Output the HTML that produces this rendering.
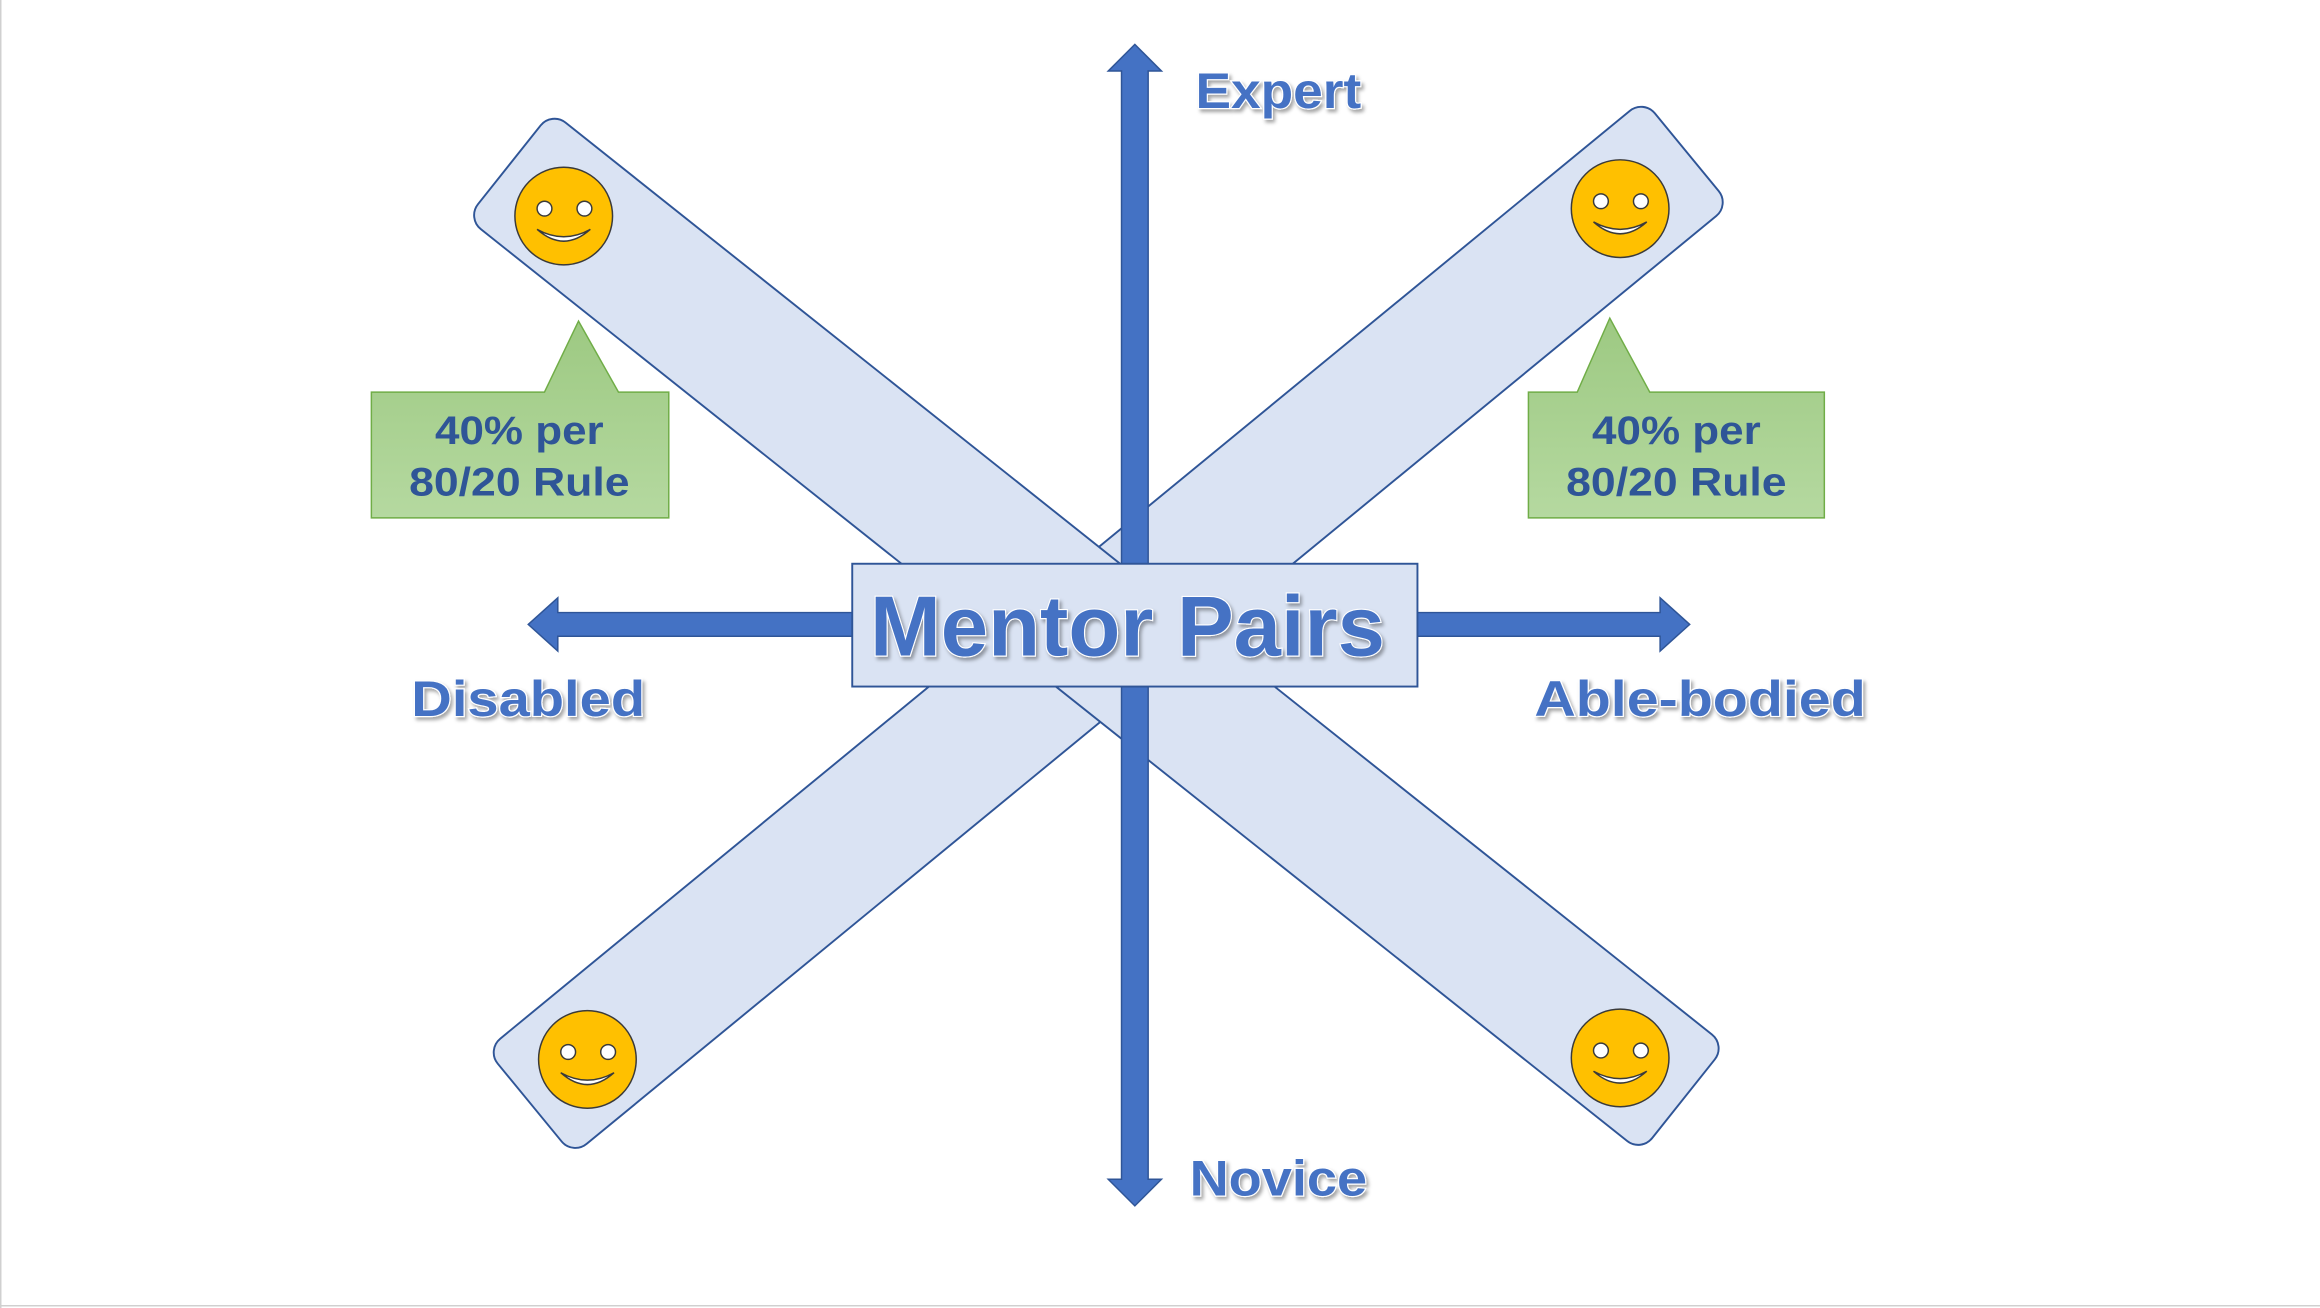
<!DOCTYPE html>
<html><head><meta charset="utf-8"><style>
html,body{margin:0;padding:0;background:#fff;}
svg{display:block;}
text{font-family:"Liberation Sans",sans-serif;font-weight:bold;}
</style></head><body>
<svg width="2320" height="1308" viewBox="0 0 1568 884" xmlns="http://www.w3.org/2000/svg">
<defs>
<linearGradient id="g" x1="0" y1="0" x2="0" y2="1">
<stop offset="0" stop-color="#9dc982"/><stop offset="1" stop-color="#b5d9a0"/>
</linearGradient>
<filter id="sh" x="-10%" y="-10%" width="130%" height="140%">
<feDropShadow dx="1.5" dy="2" stdDeviation="1.2" flood-color="#000" flood-opacity="0.35"/>
</filter>
</defs>
<rect x="0" y="0" width="1568" height="884" fill="#fff"/>
<line x1="0.5" y1="0" x2="0.5" y2="884" stroke="#d0d0d0"/>
<line x1="0" y1="882.5" x2="1568" y2="882.5" stroke="#d0d0d0"/>

<g transform="translate(749,424) rotate(-39.4)">
<rect x="-506" y="-46" width="1012" height="92" rx="12" fill="#dae3f3" stroke="#2f5597" stroke-width="1.3"/>
</g>
<g transform="translate(741,427) rotate(38.5)">
<rect x="-507" y="-46" width="1014" height="92" rx="12" fill="#dae3f3" stroke="#2f5597" stroke-width="1.3"/>
</g>

<polygon points="767,30 785,48 776,48 776,797 785,797 767,815 749,797 758,797 758,48 749,48" fill="#4472c4" stroke="#2f5597" stroke-width="1"/>
<polygon points="357,422 377,404 377,414 1122,414 1122,404 1142,422 1122,440 1122,430 377,430 377,440" fill="#4472c4" stroke="#2f5597" stroke-width="1"/>

<rect x="576" y="381" width="382" height="83" fill="#dae3f3" stroke="#2f5597" stroke-width="1.3"/>
<text x="762" y="443" font-size="58" text-anchor="middle" textLength="348" lengthAdjust="spacingAndGlyphs" fill="#4472c4" stroke="#fff" stroke-width="1.5" paint-order="stroke" filter="url(#sh)">Mentor Pairs</text>

<g fill="#4472c4" stroke="#fff" stroke-width="1.5" paint-order="stroke" filter="url(#sh)" font-size="34">
<text x="808" y="73" textLength="112" lengthAdjust="spacingAndGlyphs">Expert</text>
<text x="804" y="808" textLength="120" lengthAdjust="spacingAndGlyphs">Novice</text>
<text x="278" y="484" textLength="158" lengthAdjust="spacingAndGlyphs">Disabled</text>
<text x="1037" y="484" textLength="224" lengthAdjust="spacingAndGlyphs">Able-bodied</text>
</g>

<g stroke="#70ad47" stroke-width="1" fill="url(#g)">
<path d="M251,265 H368 L391,217 L418,265 H452 V350 H251 Z"/>
<path d="M1033,265 H1066 L1088,215 L1115,265 H1233 V350 H1033 Z"/>
</g>
<g fill="#2f5597" font-size="27" text-anchor="middle">
<text x="351" y="300" textLength="114" lengthAdjust="spacingAndGlyphs">40% per</text>
<text x="351" y="335" textLength="149" lengthAdjust="spacingAndGlyphs">80/20 Rule</text>
<text x="1133" y="300" textLength="114" lengthAdjust="spacingAndGlyphs">40% per</text>
<text x="1133" y="335" textLength="149" lengthAdjust="spacingAndGlyphs">80/20 Rule</text>
</g>

<g id="s1" transform="translate(381,146)">
<circle r="33" fill="#ffc000" stroke="#3a3a3a" stroke-width="1"/>
<circle cx="-13" cy="-5" r="5" fill="#fff" stroke="#3a3a3a" stroke-width="1"/>
<circle cx="14" cy="-5" r="5" fill="#fff" stroke="#3a3a3a" stroke-width="1"/>
<path d="M-18,9 Q0,25 18,9 Q0,19 -18,9 Z" fill="#fff" stroke="#3a3a3a" stroke-width="1"/>
</g>
<use href="#s1" transform="translate(714,-5)"/>
<use href="#s1" transform="translate(16,570)"/>
<use href="#s1" transform="translate(714,569)"/>
</svg>
</body></html>
